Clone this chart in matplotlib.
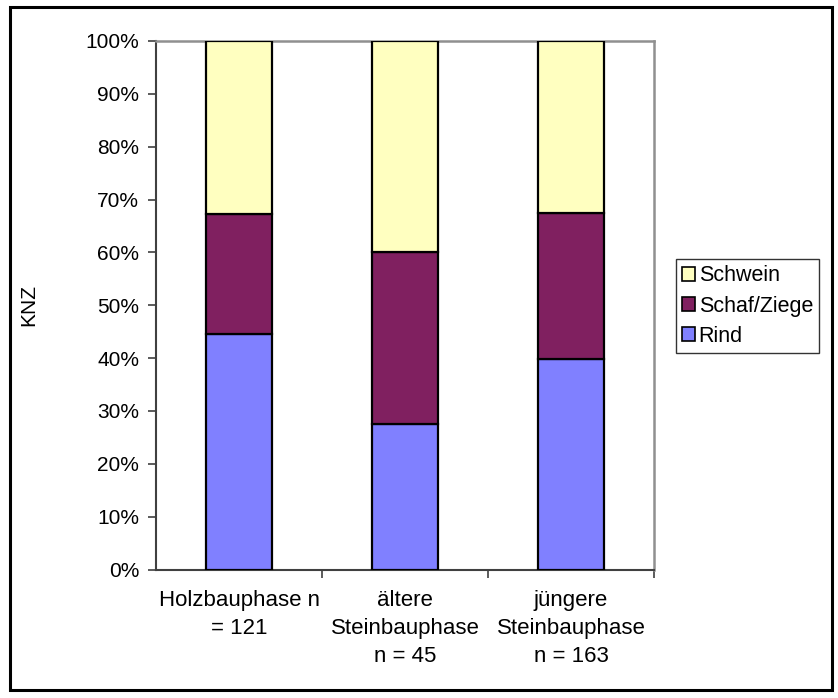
import matplotlib
matplotlib.use("Agg")
import matplotlib.pyplot as plt
from matplotlib.patches import Patch, Rectangle

plt.rcParams['font.family'] = ['Liberation Sans', 'DejaVu Sans']

categories = ["Holzbauphase n\n= 121", "ältere\nSteinbauphase\nn = 45", "jüngere\nSteinbauphase\nn = 163"]
rind = [44.6, 27.6, 39.8]
schaf_ziege = [22.7, 32.4, 27.7]
schwein = [32.7, 40.0, 32.5]
yticks = [0, 10, 20, 30, 40, 50, 60, 70, 80, 90, 100]

colors = {"Rind": "#8080FF", "Schaf/Ziege": "#802060", "Schwein": "#FFFFC0"}

fig = plt.figure(figsize=(8.38, 6.98), dpi=100)
ax = fig.add_axes([156 / 838, 1 - 569.5 / 698, (654 - 156) / 838, (569.5 - 41) / 698])

x = list(range(len(categories)))
w = 0.4
bottom2 = [a + b for a, b in zip(rind, schaf_ziege)]
ax.bar(x, rind, w, color=colors["Rind"], edgecolor="black", linewidth=1.6, zorder=3)
ax.bar(x, schaf_ziege, w, bottom=rind, color=colors["Schaf/Ziege"], edgecolor="black", linewidth=1.6, zorder=3)
ax.bar(x, schwein, w, bottom=bottom2, color=colors["Schwein"], edgecolor="black", linewidth=1.6, zorder=3)

ax.set_xlim(-0.5, 2.5)
ax.set_ylim(0, 100)
ax.set_yticks(yticks)
ax.set_yticklabels([f"{v}%" for v in yticks], fontsize=15)
ax.tick_params(axis="y", direction="out", length=6, width=1.2, color="#404040", pad=6)

ax.set_xticks(x)
ax.set_xticklabels(categories, fontsize=16, linespacing=1.44)
ax.tick_params(axis="x", which="major", length=0, pad=15)
ax.set_xticks([0.5, 1.5, 2.5], minor=True)
ax.tick_params(axis="x", which="minor", direction="out", length=6, width=1.2, color="#404040")

ax.set_ylabel("KNZ", fontsize=15)
ax.yaxis.set_label_coords(-0.237, 0.5)

for side in ("left", "bottom"):
    ax.spines[side].set_color("#404040")
    ax.spines[side].set_linewidth(1.5)
for side in ("top", "right"):
    ax.spines[side].set_color("#909090")
    ax.spines[side].set_linewidth(1.8)

handles = [Patch(facecolor=colors[k], edgecolor="black", linewidth=1.2) for k in ("Schwein", "Schaf/Ziege", "Rind")]
leg = fig.legend(handles, ["Schwein", "Schaf/Ziege", "Rind"], loc="upper left",
                 bbox_to_anchor=(676 / 838, 1 - 259 / 698), borderaxespad=0,
                 fontsize=15.5, handlelength=0.6, handleheight=0.6, handletextpad=0.15,
                 labelspacing=0.42, borderpad=0.3, fancybox=False, frameon=True)
leg.get_frame().set_edgecolor("black")
leg.get_frame().set_linewidth(1.0)

# outer chart frame
fig.patches.append(Rectangle((10 / 838, 1 - 690 / 698), (832 - 10) / 838, (690 - 7) / 698,
                             transform=fig.transFigure, fill=False, edgecolor="black", linewidth=2.2))

fig.savefig("out.png", dpi=100)
